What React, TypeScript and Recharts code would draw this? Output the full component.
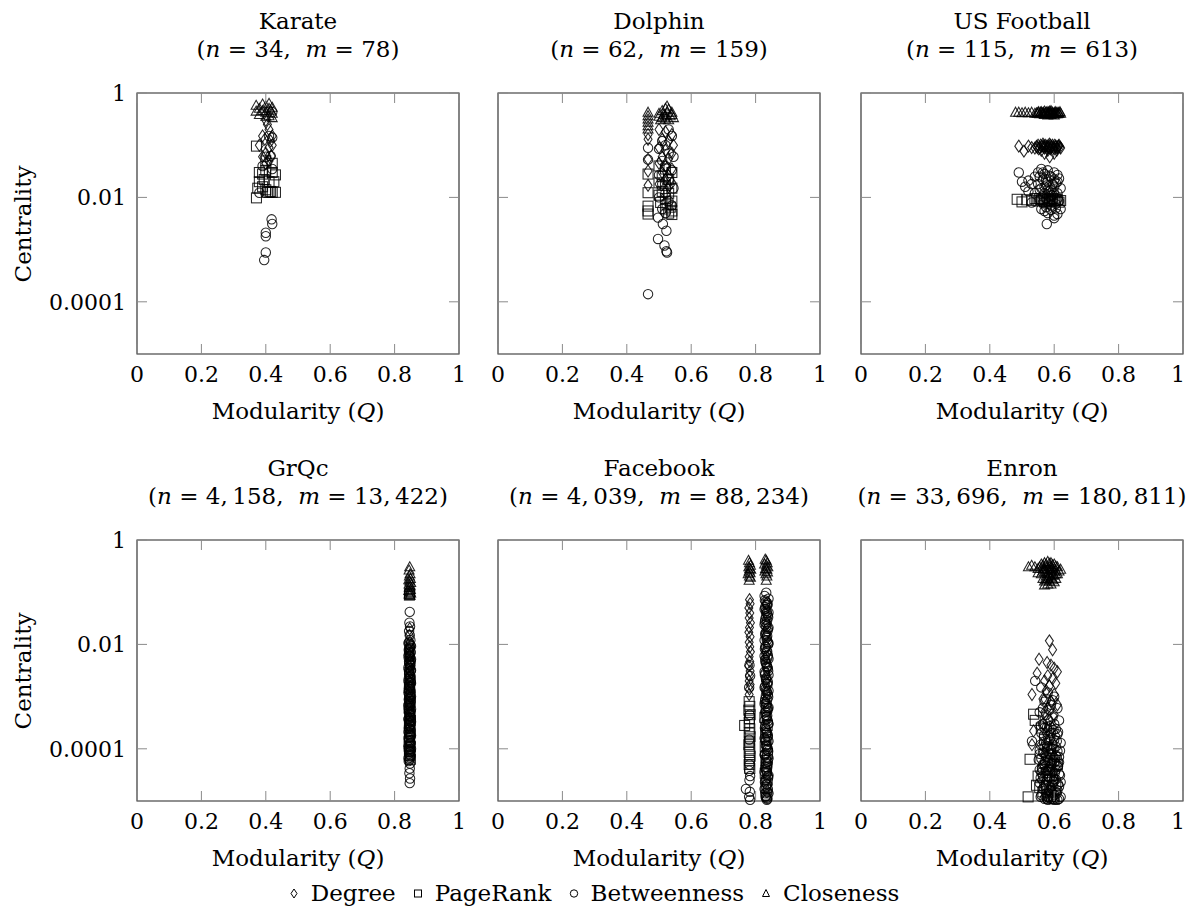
import React from "react";
import {
  ScatterChart,
  Scatter,
  XAxis,
  YAxis,
  ReferenceArea,
} from "recharts";

type Pt = [number, number];

// ---- data (x = modularity, y = centrality) ----

const networkNames = ["Karate", "Dolphin", "US Football", "GrQc", "Facebook", "Enron"];
const nodeCounts = ["34", "62", "115", "4,\u2009158", "4,\u2009039", "33,\u2009696"];
const edgeCounts = ["78", "159", "613", "13,\u2009422", "88,\u2009234", "180,\u2009811"];
const measureNames = ["Degree", "PageRank", "Betweenness", "Closeness"];

const xTicks = [0, 0.2, 0.4, 0.6, 0.8, 1];
const yTicks = [1, 0.01, 0.0001];

const karateDegree: Pt[] = [
  [0.4, 0.3], [0.41, 0.2], [0.39, 0.15], [0.397, 0.13], [0.42, 0.1], [0.41, 0.09],
  [0.4, 0.07], [0.417, 0.062], [0.39, 0.06], [0.41, 0.05], [0.4, 0.045], [0.42, 0.15],
  [0.38, 0.1], [0.415, 0.12], [0.405, 0.25],
];
const karatePageRank: Pt[] = [
  [0.371, 0.096], [0.371, 0.0098], [0.38, 0.03], [0.39, 0.028], [0.4, 0.033], [0.42, 0.03],
  [0.43, 0.027], [0.38, 0.02], [0.395, 0.022], [0.41, 0.02], [0.425, 0.02], [0.39, 0.016],
  [0.4, 0.014], [0.41, 0.0125], [0.42, 0.0125], [0.43, 0.0125], [0.405, 0.0125],
  [0.415, 0.013], [0.375, 0.015], [0.42, 0.045], [0.4, 0.05],
];
const karateBetweenness: Pt[] = [
  [0.42, 0.43], [0.41, 0.15], [0.42, 0.14], [0.415, 0.062], [0.4, 0.06], [0.39, 0.04],
  [0.42, 0.035], [0.38, 0.0123], [0.418, 0.0038], [0.42, 0.0031], [0.4, 0.0021],
  [0.4, 0.0018], [0.4, 0.00088], [0.395, 0.00063],
];
const karateCloseness: Pt[] = [
  [0.37, 0.57], [0.38, 0.5], [0.39, 0.45], [0.4, 0.55], [0.41, 0.5], [0.42, 0.4],
  [0.38, 0.38], [0.4, 0.42], [0.41, 0.36], [0.42, 0.33], [0.39, 0.6], [0.4, 0.35],
  [0.415, 0.46], [0.37, 0.44], [0.42, 0.52], [0.41, 0.62],
];

const dolphinDegree: Pt[] = [
  [0.466, 0.16], [0.466, 0.13], [0.466, 0.054], [0.466, 0.032], [0.466, 0.017],
  [0.5, 0.2], [0.52, 0.18], [0.54, 0.16], [0.51, 0.13], [0.53, 0.12], [0.545, 0.1],
  [0.5, 0.09], [0.52, 0.08], [0.54, 0.07], [0.51, 0.06], [0.53, 0.055], [0.5, 0.045],
  [0.52, 0.04], [0.54, 0.035], [0.51, 0.03], [0.53, 0.026], [0.52, 0.022], [0.54, 0.019],
  [0.5, 0.018], [0.53, 0.016],
];
const dolphinPageRank: Pt[] = [
  [0.466, 0.028], [0.466, 0.0123], [0.466, 0.0068], [0.466, 0.0055], [0.466, 0.0048],
  [0.5, 0.04], [0.52, 0.035], [0.54, 0.03], [0.51, 0.025], [0.53, 0.022], [0.5, 0.019],
  [0.52, 0.017], [0.54, 0.015], [0.51, 0.013], [0.53, 0.012], [0.5, 0.011], [0.52, 0.0095],
  [0.54, 0.0085], [0.505, 0.008], [0.525, 0.0072], [0.535, 0.0065], [0.52, 0.006],
  [0.54, 0.0055], [0.53, 0.005], [0.54, 0.0047],
];
const dolphinBetweenness: Pt[] = [
  [0.466, 0.089], [0.466, 0.053], [0.466, 0.00014],
  [0.53, 0.2], [0.54, 0.15], [0.51, 0.12], [0.52, 0.1], [0.5, 0.085], [0.53, 0.07],
  [0.545, 0.06], [0.51, 0.05], [0.52, 0.04], [0.54, 0.033], [0.5, 0.027], [0.53, 0.022],
  [0.51, 0.018], [0.545, 0.015], [0.52, 0.012], [0.5, 0.01], [0.53, 0.0085], [0.54, 0.007],
  [0.51, 0.006], [0.52, 0.005], [0.497, 0.0041], [0.512, 0.0031], [0.523, 0.0023],
  [0.497, 0.0016], [0.517, 0.0012], [0.523, 0.00093], [0.525, 0.00088],
];
const dolphinCloseness: Pt[] = [
  [0.466, 0.42], [0.466, 0.36], [0.466, 0.31], [0.466, 0.27], [0.466, 0.23], [0.466, 0.2],
  [0.5, 0.4], [0.51, 0.45], [0.52, 0.5], [0.53, 0.48], [0.54, 0.42], [0.5, 0.35],
  [0.515, 0.38], [0.525, 0.42], [0.535, 0.36], [0.545, 0.33], [0.52, 0.31], [0.505, 0.3],
  [0.53, 0.3], [0.54, 0.38], [0.51, 0.33], [0.525, 0.55], [0.52, 0.36],
];

const footballDegree: Pt[] = [
  [0.49, 0.096], [0.506, 0.077], [0.52, 0.096], [0.53, 0.09], [0.54, 0.088], [0.55, 0.1],
  [0.555, 0.09], [0.56, 0.08], [0.565, 0.105], [0.57, 0.088], [0.575, 0.096], [0.58, 0.08],
  [0.585, 0.105], [0.59, 0.09], [0.595, 0.1], [0.6, 0.085], [0.605, 0.096], [0.61, 0.09],
  [0.615, 0.1], [0.62, 0.088], [0.586, 0.06], [0.57, 0.07], [0.6, 0.07], [0.58, 0.096],
  [0.545, 0.095], [0.562, 0.095], [0.572, 0.1], [0.582, 0.09], [0.592, 0.095], [0.602, 0.1],
  [0.612, 0.095], [0.618, 0.092], [0.588, 0.085], [0.608, 0.08],
  [0.548, 0.09], [0.558, 0.1], [0.568, 0.092], [0.578, 0.088], [0.588, 0.1], [0.598, 0.09],
  [0.608, 0.088], [0.552, 0.085], [0.566, 0.096], [0.584, 0.094], [0.604, 0.092], [0.614, 0.096],
];
const footballPageRank: Pt[] = [
  [0.485, 0.0092], [0.5, 0.0082], [0.515, 0.009], [0.53, 0.0088], [0.54, 0.0095],
  [0.55, 0.0085], [0.56, 0.009], [0.57, 0.0082], [0.58, 0.0092], [0.59, 0.0088], [0.6, 0.0085],
  [0.61, 0.009], [0.62, 0.0087], [0.555, 0.0095], [0.575, 0.0078], [0.595, 0.0095],
  [0.565, 0.0088], [0.585, 0.0084], [0.605, 0.0093], [0.615, 0.0081],
];
const footballBetweenness: Pt[] = [
  [0.49, 0.03], [0.5, 0.02], [0.51, 0.016], [0.52, 0.013], [0.53, 0.018], [0.54, 0.025],
  [0.55, 0.03], [0.56, 0.035], [0.57, 0.028], [0.58, 0.033], [0.59, 0.025], [0.6, 0.03],
  [0.61, 0.02], [0.55, 0.018], [0.56, 0.015], [0.57, 0.012], [0.58, 0.02], [0.59, 0.014],
  [0.6, 0.016], [0.61, 0.012], [0.62, 0.015], [0.555, 0.009], [0.565, 0.008], [0.575, 0.0095],
  [0.585, 0.0085], [0.595, 0.009], [0.605, 0.0075], [0.615, 0.0085], [0.56, 0.006],
  [0.57, 0.0055], [0.58, 0.005], [0.59, 0.0058], [0.6, 0.0045], [0.61, 0.0048],
  [0.577, 0.0031], [0.6, 0.004], [0.62, 0.006], [0.54, 0.012], [0.53, 0.008], [0.52, 0.021],
  [0.565, 0.022], [0.575, 0.017], [0.585, 0.013], [0.595, 0.011], [0.605, 0.019],
  [0.615, 0.023], [0.59, 0.007], [0.575, 0.0065], [0.605, 0.0062],
  [0.555, 0.025], [0.565, 0.03], [0.575, 0.022], [0.585, 0.026], [0.595, 0.018], [0.6, 0.022],
  [0.61, 0.027], [0.57, 0.016], [0.58, 0.014], [0.59, 0.011], [0.6, 0.012], [0.61, 0.0095],
  [0.585, 0.0105], [0.565, 0.0105], [0.555, 0.014],
];
const footballCloseness: Pt[] = [
  [0.48, 0.42], [0.49, 0.42], [0.5, 0.41], [0.51, 0.42], [0.52, 0.41], [0.53, 0.42],
  [0.54, 0.4], [0.55, 0.42], [0.555, 0.39], [0.56, 0.43], [0.565, 0.4], [0.57, 0.38],
  [0.575, 0.42], [0.58, 0.4], [0.585, 0.44], [0.59, 0.38], [0.595, 0.42], [0.6, 0.4],
  [0.605, 0.43], [0.61, 0.39], [0.615, 0.41], [0.62, 0.4], [0.57, 0.44], [0.59, 0.45],
  [0.58, 0.37], [0.6, 0.37], [0.545, 0.41], [0.562, 0.41], [0.572, 0.41], [0.582, 0.42],
  [0.592, 0.41], [0.602, 0.42], [0.612, 0.42], [0.618, 0.43], [0.588, 0.39], [0.598, 0.39],
  [0.548, 0.4], [0.558, 0.42], [0.568, 0.39], [0.578, 0.43], [0.588, 0.42], [0.598, 0.4],
  [0.608, 0.41], [0.552, 0.43], [0.566, 0.42], [0.584, 0.41], [0.604, 0.39], [0.614, 0.4],
];

const grqcDegree: Pt[] = [
  [0.847, 0.02], [0.846, 0.015], [0.848, 0.011], [0.845, 0.008], [0.847, 0.0062],
  [0.849, 0.0048], [0.846, 0.0038], [0.848, 0.003], [0.845, 0.0024], [0.847, 0.0019],
  [0.849, 0.0015], [0.846, 0.0012], [0.848, 0.00096], [0.845, 0.00077], [0.847, 0.00062],
  [0.849, 0.0005], [0.846, 0.0004], [0.848, 0.00032], [0.847, 0.00026],
];
const grqcPageRank: Pt[] = [
  [0.847, 0.095], [0.846, 0.088], [0.848, 0.0021], [0.846, 0.0015], [0.847, 0.0011],
  [0.848, 0.0008], [0.845, 0.0006], [0.847, 0.00045], [0.849, 0.00035], [0.846, 0.00028],
  [0.848, 0.00022], [0.847, 0.00017], [0.845, 0.00014], [0.848, 0.00011], [0.846, 0.00009],
  [0.847, 0.000075], [0.849, 0.000063],
];
const grqcBetweenness: Pt[] = [
  [0.847, 0.042], [0.846, 0.026], [0.848, 0.022], [0.845, 0.018], [0.847, 0.015],
  [0.849, 0.012], [0.846, 0.01], [0.848, 0.0085], [0.845, 0.007], [0.847, 0.006],
  [0.849, 0.005], [0.846, 0.0042], [0.848, 0.0035], [0.845, 0.003], [0.847, 0.0025],
  [0.849, 0.0021], [0.846, 0.0018], [0.848, 0.0015], [0.845, 0.0013], [0.847, 0.0011],
  [0.849, 0.00092], [0.846, 0.00078], [0.848, 0.00066], [0.845, 0.00056], [0.847, 0.00047],
  [0.849, 0.0004], [0.846, 0.00034], [0.848, 0.00029], [0.845, 0.00024], [0.847, 0.0002],
  [0.849, 0.00017], [0.846, 0.00014], [0.848, 0.00012], [0.845, 0.0001], [0.847, 0.000085],
  [0.849, 0.000072], [0.846, 0.000062], [0.848, 0.000052], [0.847, 0.000042],
  [0.846, 0.000034], [0.848, 0.000027], [0.847, 0.000022],
  [0.845, 0.011], [0.849, 0.0095], [0.847, 0.0088], [0.844, 0.0078], [0.85, 0.0072],
  [0.846, 0.0065], [0.848, 0.0058], [0.844, 0.0054], [0.85, 0.0046], [0.846, 0.0044],
  [0.848, 0.0039], [0.844, 0.0033], [0.85, 0.0031], [0.846, 0.0028], [0.848, 0.0023],
  [0.844, 0.0022], [0.85, 0.0019], [0.846, 0.0017], [0.848, 0.0016], [0.844, 0.0014],
  [0.85, 0.0012], [0.846, 0.00105], [0.848, 0.00098], [0.844, 0.00088], [0.85, 0.00082],
  [0.846, 0.00072], [0.848, 0.00069], [0.844, 0.0006], [0.85, 0.00052], [0.846, 0.0005],
  [0.848, 0.00044], [0.844, 0.00038], [0.85, 0.00036], [0.846, 0.00031], [0.848, 0.00027],
  [0.844, 0.00025], [0.85, 0.00022], [0.846, 0.00019], [0.848, 0.00018], [0.844, 0.00016],
  [0.85, 0.00013], [0.846, 0.000125], [0.848, 0.00011], [0.844, 0.000095], [0.85, 0.00009],
  [0.846, 0.00008], [0.848, 0.000068], [0.844, 0.000058],
  [0.843, 0.0105], [0.851, 0.0092], [0.845, 0.0082], [0.849, 0.0068], [0.843, 0.0061],
  [0.851, 0.0052], [0.845, 0.0047], [0.849, 0.004], [0.843, 0.0036], [0.851, 0.0032],
  [0.845, 0.0027], [0.849, 0.0024], [0.843, 0.002], [0.851, 0.0018], [0.845, 0.00155],
  [0.849, 0.00135], [0.843, 0.0012], [0.851, 0.001], [0.845, 0.0009], [0.849, 0.00076],
  [0.843, 0.00068], [0.851, 0.00058], [0.845, 0.0005], [0.849, 0.00043], [0.843, 0.00037],
  [0.851, 0.00033], [0.845, 0.00028], [0.849, 0.00024], [0.843, 0.00021], [0.851, 0.00018],
  [0.845, 0.00015], [0.849, 0.00013], [0.843, 0.00011], [0.851, 0.0001], [0.845, 0.000088],
  [0.849, 0.000076], [0.843, 0.000066],
];
const grqcCloseness: Pt[] = [
  [0.847, 0.3], [0.845, 0.26], [0.848, 0.22], [0.846, 0.2], [0.849, 0.18], [0.844, 0.17],
  [0.847, 0.16], [0.85, 0.15], [0.845, 0.14], [0.848, 0.13], [0.846, 0.12], [0.849, 0.11],
  [0.844, 0.105], [0.847, 0.1], [0.85, 0.095], [0.845, 0.09], [0.848, 0.085],
];

const facebookDegree: Pt[] = [
  [0.781, 0.072], [0.783, 0.06], [0.779, 0.05], [0.782, 0.04], [0.78, 0.032], [0.784, 0.026],
  [0.781, 0.021], [0.779, 0.017], [0.783, 0.014], [0.78, 0.011], [0.782, 0.009],
  [0.784, 0.0072], [0.78, 0.0058], [0.782, 0.0047], [0.779, 0.0039], [0.783, 0.0031],
  [0.781, 0.0025], [0.78, 0.002], [0.783, 0.0017], [0.781, 0.0014], [0.78, 0.0011],
  [0.833, 0.06], [0.83, 0.04], [0.836, 0.025], [0.832, 0.015], [0.835, 0.009],
  [0.829, 0.0055], [0.837, 0.0035], [0.831, 0.002], [0.834, 0.0012], [0.83, 0.0008],
];
const facebookPageRank: Pt[] = [
  [0.78, 0.0008], [0.782, 0.00065], [0.779, 0.00055], [0.783, 0.00045], [0.781, 0.00038],
  [0.78, 0.00032], [0.766, 0.00028], [0.782, 0.00024], [0.78, 0.0002], [0.783, 0.00017],
  [0.781, 0.00014], [0.779, 0.00012], [0.782, 0.0001], [0.78, 0.000085], [0.783, 0.000072],
  [0.781, 0.00006], [0.78, 0.00005], [0.782, 0.000042],
  [0.833, 0.0006], [0.829, 0.0004], [0.836, 0.00028], [0.831, 0.0002], [0.835, 0.00015],
  [0.83, 0.00011], [0.837, 0.00008], [0.832, 0.00006], [0.834, 0.000045], [0.83, 0.000034],
  [0.836, 0.000025], [0.832, 0.000018], [0.835, 0.000013],
];
const facebookBetweenness: Pt[] = [
  [0.781, 0.004], [0.783, 0.0025], [0.78, 0.0015], [0.782, 0.00045], [0.78, 0.00015],
  [0.781, 0.00005], [0.78, 0.000038], [0.783, 0.00003], [0.781, 0.000025], [0.77, 0.000017],
  [0.782, 0.000015], [0.78, 0.000012], [0.783, 0.0000105],
  [0.833, 0.098], [0.829, 0.07], [0.837, 0.058], [0.831, 0.048], [0.835, 0.04], [0.839, 0.033],
  [0.829, 0.027], [0.833, 0.022], [0.837, 0.018], [0.831, 0.015], [0.835, 0.012], [0.839, 0.01],
  [0.829, 0.0082], [0.833, 0.0068], [0.837, 0.0056], [0.831, 0.0046], [0.835, 0.0038],
  [0.839, 0.0031], [0.829, 0.0026], [0.833, 0.0021], [0.837, 0.0017], [0.831, 0.0014],
  [0.835, 0.0012], [0.839, 0.00098], [0.829, 0.0008], [0.833, 0.00066], [0.837, 0.00054],
  [0.831, 0.00045], [0.835, 0.00037], [0.839, 0.0003], [0.829, 0.00025], [0.833, 0.0002],
  [0.837, 0.00017], [0.831, 0.00014], [0.835, 0.00011], [0.839, 0.00009], [0.829, 0.000075],
  [0.833, 0.000062], [0.837, 0.00005], [0.831, 0.000041], [0.835, 0.000034], [0.839, 0.000028],
  [0.829, 0.000023], [0.833, 0.000019], [0.837, 0.000015], [0.831, 0.000012], [0.835, 0.0000105],
  [0.836, 0.062], [0.83, 0.052], [0.834, 0.044], [0.838, 0.036], [0.83, 0.03], [0.834, 0.025],
  [0.838, 0.02], [0.83, 0.016], [0.834, 0.0135], [0.838, 0.011], [0.83, 0.009], [0.834, 0.0075],
  [0.838, 0.0062], [0.83, 0.0051], [0.834, 0.0042], [0.838, 0.0035], [0.83, 0.0028],
  [0.834, 0.0023], [0.838, 0.0019], [0.83, 0.0016], [0.834, 0.0013], [0.838, 0.0011],
  [0.83, 0.0009], [0.834, 0.00073], [0.838, 0.0006], [0.83, 0.0005], [0.834, 0.00041],
  [0.838, 0.00034], [0.83, 0.00028], [0.834, 0.00022], [0.838, 0.00018], [0.83, 0.00015],
  [0.834, 0.00012], [0.838, 0.0001], [0.83, 0.000082], [0.834, 0.000068], [0.838, 0.000056],
  [0.83, 0.000045], [0.834, 0.000037], [0.838, 0.00003], [0.83, 0.000025], [0.834, 0.000021],
  [0.838, 0.000017], [0.83, 0.000014], [0.834, 0.0000115],
  [0.828, 0.085], [0.84, 0.075], [0.832, 0.066], [0.836, 0.056], [0.828, 0.047], [0.84, 0.041],
  [0.832, 0.034], [0.836, 0.029], [0.828, 0.024], [0.84, 0.021], [0.832, 0.017], [0.836, 0.0145],
  [0.828, 0.012], [0.84, 0.0105], [0.832, 0.0088], [0.836, 0.0073], [0.828, 0.006], [0.84, 0.0053],
  [0.832, 0.0044], [0.836, 0.0037], [0.828, 0.003], [0.84, 0.0026], [0.832, 0.0022],
  [0.836, 0.0018], [0.828, 0.0015], [0.84, 0.0013], [0.832, 0.00105], [0.836, 0.00088],
  [0.828, 0.00072], [0.84, 0.00062], [0.832, 0.00052], [0.836, 0.00043], [0.828, 0.00035],
  [0.84, 0.0003], [0.832, 0.00024], [0.836, 0.0002], [0.828, 0.00016], [0.84, 0.00014],
  [0.832, 0.000115], [0.836, 0.000095], [0.828, 0.000078], [0.84, 0.000066], [0.832, 0.000054],
  [0.836, 0.000044], [0.828, 0.000036], [0.84, 0.000031], [0.832, 0.000026], [0.836, 0.000021],
  [0.828, 0.000017], [0.84, 0.000014], [0.832, 0.0000125], [0.836, 0.000011],
];
const facebookCloseness: Pt[] = [
  [0.778, 0.4], [0.781, 0.36], [0.784, 0.32], [0.779, 0.3], [0.782, 0.28], [0.785, 0.27],
  [0.78, 0.25], [0.783, 0.23], [0.777, 0.22], [0.781, 0.2], [0.784, 0.19], [0.78, 0.165],
  [0.83, 0.42], [0.833, 0.4], [0.836, 0.36], [0.828, 0.34], [0.834, 0.32], [0.838, 0.3],
  [0.831, 0.28], [0.835, 0.27], [0.829, 0.25], [0.837, 0.24], [0.832, 0.22], [0.835, 0.2],
  [0.833, 0.165],
];

const enronDegree: Pt[] = [
  [0.585, 0.0117], [0.595, 0.0079], [0.553, 0.0052], [0.578, 0.0045], [0.59, 0.004],
  [0.6, 0.0035], [0.61, 0.003], [0.547, 0.0028], [0.58, 0.0025], [0.595, 0.0022],
  [0.57, 0.002], [0.605, 0.0018], [0.585, 0.0016], [0.531, 0.0011], [0.575, 0.0013],
  [0.6, 0.0011], [0.565, 0.0009], [0.59, 0.0008], [0.58, 0.0006], [0.61, 0.0007],
  [0.57, 0.0005], [0.6, 0.00045], [0.536, 0.00022], [0.585, 0.00035], [0.565, 0.0003],
  [0.595, 0.00025], [0.531, 0.00012], [0.575, 0.0002], [0.605, 0.00018], [0.58, 0.00014],
  [0.56, 0.00012], [0.59, 0.0001], [0.57, 0.00008], [0.6, 0.00007], [0.58, 0.00006],
  [0.565, 0.00005], [0.61, 0.00005], [0.59, 0.00004], [0.575, 0.000035], [0.6, 0.00003],
  [0.56, 0.000025], [0.585, 0.00002], [0.595, 0.000015], [0.57, 0.000012],
];
const enronPageRank: Pt[] = [
  [0.536, 0.00046], [0.541, 0.00035], [0.525, 0.000063], [0.519, 0.000012], [0.545, 0.00002],
  [0.55, 0.00003], [0.56, 0.00025], [0.57, 0.00015], [0.58, 0.0001], [0.59, 0.00008],
  [0.6, 0.00006], [0.61, 0.00005], [0.565, 0.00004], [0.575, 0.000035], [0.585, 0.00003],
  [0.595, 0.000025], [0.605, 0.00002], [0.555, 0.000018], [0.565, 0.000015], [0.58, 0.000013],
  [0.59, 0.000012], [0.6, 0.000011],
];
const enronBetweenness: Pt[] = [
  [0.541, 0.002], [0.56, 0.0015], [0.58, 0.0012], [0.6, 0.001], [0.57, 0.0008], [0.59, 0.0007],
  [0.61, 0.0006], [0.555, 0.0005], [0.575, 0.00045], [0.595, 0.0004], [0.615, 0.00035],
  [0.565, 0.0003], [0.585, 0.00027], [0.605, 0.00024], [0.531, 0.00014], [0.56, 0.0002],
  [0.58, 0.00017], [0.6, 0.00015], [0.62, 0.00013], [0.57, 0.00011], [0.59, 0.0001],
  [0.61, 0.00009], [0.555, 0.00008], [0.575, 0.00007], [0.595, 0.00006], [0.615, 0.000055],
  [0.565, 0.00005], [0.585, 0.000045], [0.605, 0.00004], [0.56, 0.000035], [0.58, 0.00003],
  [0.6, 0.000026], [0.62, 0.000023], [0.57, 0.00002], [0.59, 0.000018], [0.61, 0.000016],
  [0.575, 0.000014], [0.595, 0.000012], [0.58, 0.0000105], [0.6, 0.0000105],
  [0.555, 0.000095], [0.565, 0.000085], [0.585, 0.00008], [0.605, 0.000075], [0.615, 0.00007],
  [0.56, 0.000065], [0.58, 0.00006], [0.6, 0.000055], [0.57, 0.00005], [0.59, 0.000048],
  [0.61, 0.000045], [0.555, 0.00004], [0.575, 0.000038], [0.595, 0.000036], [0.615, 0.000033],
  [0.565, 0.00003], [0.585, 0.000028], [0.605, 0.000026], [0.555, 0.000022], [0.575, 0.00002],
  [0.595, 0.00002], [0.615, 0.000019], [0.565, 0.000017], [0.585, 0.000016], [0.605, 0.000015],
  [0.56, 0.000013], [0.58, 0.000012], [0.6, 0.000013], [0.62, 0.000012], [0.57, 0.000011],
  [0.59, 0.000011], [0.61, 0.0000105], [0.565, 0.0006], [0.585, 0.00055], [0.575, 0.0009],
  [0.595, 0.00085], [0.58, 0.00035], [0.6, 0.0003], [0.57, 0.00025], [0.59, 0.0002],
  [0.61, 0.00019], [0.575, 0.00013], [0.595, 0.00012], [0.585, 0.00015], [0.605, 0.00011],
  [0.558, 0.00028], [0.578, 0.00026], [0.598, 0.00023], [0.612, 0.00021], [0.568, 0.00018],
  [0.588, 0.00016], [0.608, 0.00014], [0.558, 0.00012], [0.578, 0.00011], [0.598, 0.0001],
  [0.618, 0.000092], [0.568, 0.000083], [0.588, 0.000076], [0.608, 0.00007], [0.552, 0.000062],
  [0.572, 0.000057], [0.592, 0.000052], [0.612, 0.000047], [0.562, 0.000042], [0.582, 0.000039],
  [0.602, 0.000035], [0.618, 0.000031], [0.558, 0.000028], [0.578, 0.000025], [0.598, 0.000023],
  [0.612, 0.000021], [0.568, 0.000018], [0.588, 0.000016], [0.608, 0.000014], [0.558, 0.000012],
  [0.578, 0.000011], [0.598, 0.000011], [0.615, 0.000011],
];
const enronCloseness: Pt[] = [
  [0.52, 0.3], [0.53, 0.32], [0.54, 0.3], [0.55, 0.28], [0.56, 0.34], [0.57, 0.36],
  [0.58, 0.38], [0.59, 0.36], [0.6, 0.34], [0.61, 0.3], [0.62, 0.27], [0.565, 0.28],
  [0.575, 0.3], [0.585, 0.3], [0.595, 0.28], [0.605, 0.26], [0.56, 0.22], [0.57, 0.24],
  [0.58, 0.22], [0.59, 0.23], [0.6, 0.21], [0.61, 0.22], [0.565, 0.18], [0.575, 0.17],
  [0.585, 0.16], [0.595, 0.17], [0.605, 0.18], [0.58, 0.14], [0.57, 0.135], [0.59, 0.14],
  [0.55, 0.23], [0.615, 0.25], [0.58, 0.27], [0.59, 0.19],
  [0.555, 0.3], [0.565, 0.32], [0.575, 0.34], [0.585, 0.35], [0.595, 0.33], [0.605, 0.31],
  [0.57, 0.27], [0.59, 0.26], [0.6, 0.25], [0.565, 0.25], [0.575, 0.2], [0.585, 0.2],
  [0.595, 0.21], [0.605, 0.22], [0.57, 0.16], [0.6, 0.155], [0.58, 0.18], [0.59, 0.3],
];

const panelSeries: Pt[][][] = [
  [karateDegree, karatePageRank, karateBetweenness, karateCloseness],
  [dolphinDegree, dolphinPageRank, dolphinBetweenness, dolphinCloseness],
  [footballDegree, footballPageRank, footballBetweenness, footballCloseness],
  [grqcDegree, grqcPageRank, grqcBetweenness, grqcCloseness],
  [facebookDegree, facebookPageRank, facebookBetweenness, facebookCloseness],
  [enronDegree, enronPageRank, enronBetweenness, enronCloseness],
];

// ---- layout ----
const FONT = "'DejaVu Serif', 'Liberation Serif', serif";
const FS = 23; // titles, axis labels, legend
const TFS = 22; // tick labels
const PAGE_W = 1187;
const PLOT_W = 322;
const PLOT_H = 261;
const M_LEFT = 130;
const M_TOP = 30;
const M_RIGHT = 6;
const M_BOTTOM = 48;
const TICK = 10;
const TICK_COLOR = "#8a8a8a";
const COL_X = [137, 498, 861];
const ROW_Y = [93, 540];

const markStyle = {
  fill: "none",
  stroke: "#000",
  strokeOpacity: 0.85,
  strokeWidth: 1.05,
};

const diamond = (p: any) => {
  const { cx, cy } = p;
  if (cx == null || cy == null) return <g />;
  return <path d={`M${cx},${cy - 6}L${cx + 4},${cy}L${cx},${cy + 6}L${cx - 4},${cy}Z`} {...markStyle} />;
};
const square = (p: any) => {
  const { cx, cy } = p;
  if (cx == null || cy == null) return <g />;
  return <rect x={cx - 5} y={cy - 5} width={10} height={10} {...markStyle} />;
};
const circle = (p: any) => {
  const { cx, cy } = p;
  if (cx == null || cy == null) return <g />;
  return <circle cx={cx} cy={cy} r={4.7} {...markStyle} />;
};
const triangle = (p: any) => {
  const { cx, cy } = p;
  if (cx == null || cy == null) return <g />;
  return <path d={`M${cx},${cy - 5.5}L${cx + 5},${cy + 3.5}L${cx - 5},${cy + 3.5}Z`} {...markStyle} />;
};
const shapes = [diamond, square, circle, triangle];

function XTick(props: any) {
  const { x, payload, maxLabelX } = props;
  const base = M_TOP + PLOT_H;
  return (
    <g>
      <line x1={x} x2={x} y1={base} y2={base - TICK} stroke={TICK_COLOR} />
      <line x1={x} x2={x} y1={M_TOP} y2={M_TOP + TICK} stroke={TICK_COLOR} />
      <text
        x={Math.min(x, maxLabelX)}
        y={base + 28}
        textAnchor="middle"
        fontSize={TFS}
        fontFamily={FONT}
        fill="#000"
      >
        {String(payload.value)}
      </text>
    </g>
  );
}

function YTick(props: any) {
  const { y, payload, showLabel } = props;
  const l = M_LEFT;
  const r = M_LEFT + PLOT_W;
  return (
    <g>
      <line x1={l} x2={l + TICK} y1={y} y2={y} stroke={TICK_COLOR} />
      <line x1={r - TICK} x2={r} y1={y} y2={y} stroke={TICK_COLOR} />
      {showLabel && (
        <text x={l - 11} y={y + 8} textAnchor="end" fontSize={TFS} fontFamily={FONT} fill="#000">
          {String(payload.value)}
        </text>
      )}
    </g>
  );
}

function centered(x: number, y: number): React.CSSProperties {
  return {
    position: "absolute",
    left: x,
    top: y,
    transform: "translate(-50%, -50%)",
    whiteSpace: "nowrap",
    fontFamily: FONT,
    fontSize: FS,
    lineHeight: `${FS}px`,
    color: "#000",
  };
}

function Panel({ idx }: { idx: number }) {
  const col = idx % 3;
  const row = Math.floor(idx / 3);
  const left = COL_X[col];
  const top = ROW_Y[row];
  const series = panelSeries[idx];
  const cx = left + PLOT_W / 2;
  const chartLeft = left - M_LEFT;
  const maxLabelX = PAGE_W - chartLeft - 9;
  return (
    <>
      <div style={{ position: "absolute", left: chartLeft, top: top - M_TOP }}>
        <ScatterChart
          width={M_LEFT + PLOT_W + M_RIGHT}
          height={M_TOP + PLOT_H + M_BOTTOM}
          margin={{ top: M_TOP, right: M_RIGHT, left: 0, bottom: 0 }}
        >
          <XAxis
            type="number"
            dataKey="x"
            domain={[0, 1]}
            ticks={xTicks}
            interval={0}
            height={M_BOTTOM}
            tickSize={0}
            axisLine={false}
            tick={(p: any) => <XTick {...p} maxLabelX={maxLabelX} />}
          />
          <YAxis
            type="number"
            dataKey="y"
            scale="log"
            domain={[0.00001, 1]}
            ticks={yTicks}
            interval={0}
            width={M_LEFT}
            tickSize={0}
            axisLine={false}
            tick={(p: any) => <YTick {...p} showLabel={col === 0} />}
          />
          {series.map((pts, s) => (
            <Scatter
              key={measureNames[s]}
              name={measureNames[s]}
              data={pts.map(([x, y]) => ({ x, y }))}
              shape={shapes[s]}
              isAnimationActive={false}
            />
          ))}
          <ReferenceArea
            x1={0}
            x2={1}
            y1={0.00001}
            y2={1}
            fill="none"
            stroke="#222"
            strokeWidth={1.1}
            ifOverflow="visible"
          />
        </ScatterChart>
      </div>
      <div style={centered(cx, top - 72)}>{networkNames[idx]}</div>
      <div style={centered(cx, top - 44)}>
        (<i>n</i>&nbsp;=&nbsp;{nodeCounts[idx]},&nbsp;&nbsp;<i>m</i>&nbsp;=&nbsp;{edgeCounts[idx]})
      </div>
      <div style={centered(cx, top + PLOT_H + 57)}>
        Modularity (<i>Q</i>)
      </div>
      {col === 0 && (
        <div style={{ ...centered(23, top + PLOT_H / 2), transform: "translate(-50%, -50%) rotate(-90deg)" }}>
          Centrality
        </div>
      )}
    </>
  );
}

function LegendIcon({ s }: { s: number }) {
  const st = { fill: "none", stroke: "#000", strokeWidth: 1 };
  return (
    <svg width={12} height={14} style={{ marginRight: 11 }}>
      {s === 0 && <path d="M6,2.5L9,7L6,11.5L3,7Z" {...st} />}
      {s === 1 && <rect x={2.5} y={3.5} width={7} height={7} {...st} />}
      {s === 2 && <circle cx={6} cy={7} r={3.7} {...st} />}
      {s === 3 && <path d="M6,3L9.5,10L2.5,10Z" {...st} />}
    </svg>
  );
}

export default function App() {
  return (
    <div
      style={{
        position: "absolute",
        left: 0,
        top: 0,
        width: PAGE_W,
        height: 918,
        overflow: "hidden",
        background: "#fff",
      }}
    >
      {panelSeries.map((_, i) => (
        <Panel key={networkNames[i]} idx={i} />
      ))}
      <div
        style={{
          position: "absolute",
          left: 0,
          width: PAGE_W,
          top: 893,
          transform: "translateY(-50%)",
          display: "flex",
          justifyContent: "center",
          alignItems: "center",
          fontFamily: FONT,
          fontSize: FS,
          lineHeight: `${FS}px`,
        }}
      >
        {measureNames.map((m, s) => (
          <span key={m} style={{ display: "flex", alignItems: "center", marginRight: s < 3 ? 16 : 0 }}>
            <LegendIcon s={s} />
            {m}
          </span>
        ))}
      </div>
    </div>
  );
}
